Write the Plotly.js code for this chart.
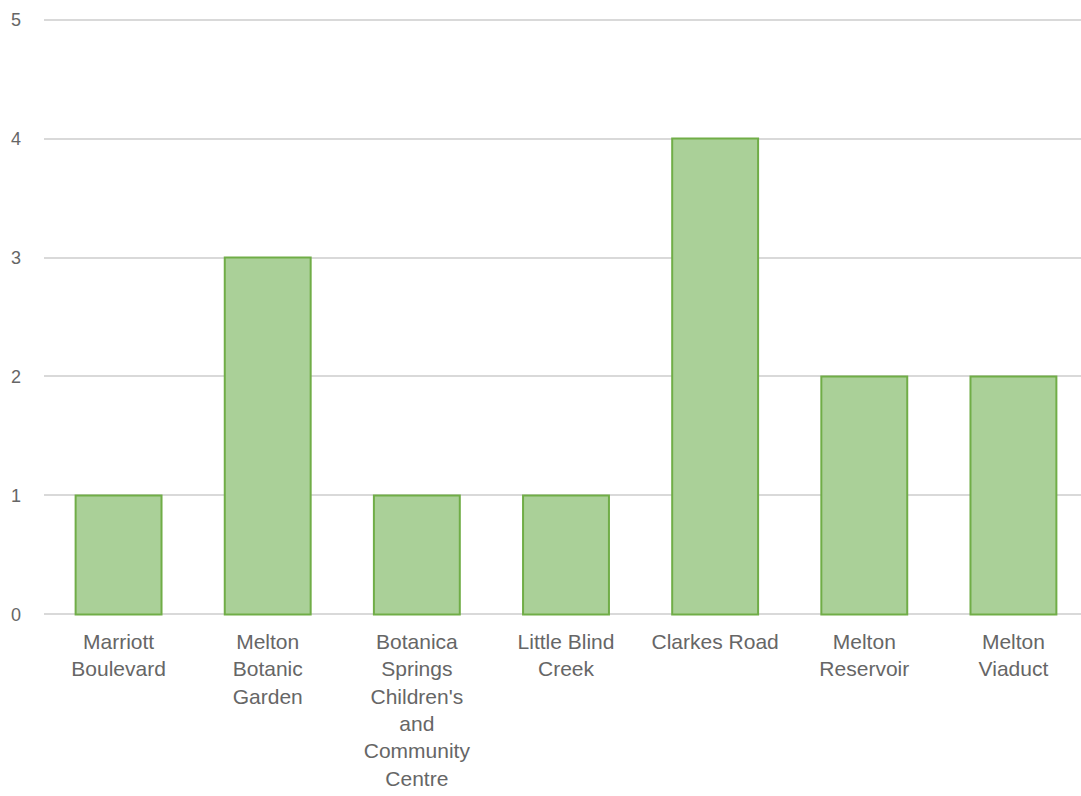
<!DOCTYPE html>
<html>
<head>
<meta charset="utf-8">
<script src="https://cdn.plot.ly/plotly-3.0.1.min.js"></script>
<style>html,body{margin:0;padding:0;overflow:hidden;background:#fff}</style>
</head>
<body>
<div id="chart"></div>
<script>
const categories = [
  "Marriott<br>Boulevard",
  "Melton<br>Botanic<br>Garden",
  "Botanica<br>Springs<br>Children's<br>and<br>Community<br>Centre",
  "Little Blind<br>Creek",
  "Clarkes Road",
  "Melton<br>Reservoir",
  "Melton<br>Viaduct"
];
const values = [1, 3, 1, 1, 4, 2, 2];
const yTicks = [0, 1, 2, 3, 4, 5];

Plotly.newPlot('chart', [{
  type: 'bar',
  x: categories,
  y: values,
  marker: {color: '#AAD098', line: {color: '#70AD47', width: 2}},
  hoverinfo: 'none'
}], {
  width: 1088, height: 796,
  margin: {l: 44, r: 0, t: 16, b: 178},
  paper_bgcolor: '#fff', plot_bgcolor: '#fff',
  bargap: 0.424,
  showlegend: false,
  font: {family: 'Liberation Sans, Arial, sans-serif', color: '#595959', size: 21},
  xaxis: {
    type: 'category', showgrid: false, zeroline: false, showline: false,
    ticks: '', tickangle: 0, ticklabelstandoff: 9,
    tickfont: {size: 21, color: '#666666'}
  },
  yaxis: {
    range: [-0.03, 5.03], tickvals: yTicks, showgrid: true, gridcolor: '#D9D9D9', gridwidth: 2,
    zeroline: false, showline: false, ticks: '', ticklabelstandoff: 22,
    tickfont: {size: 18, color: '#666666'}
  }
}, {staticPlot: true});
</script>
</body>
</html>
